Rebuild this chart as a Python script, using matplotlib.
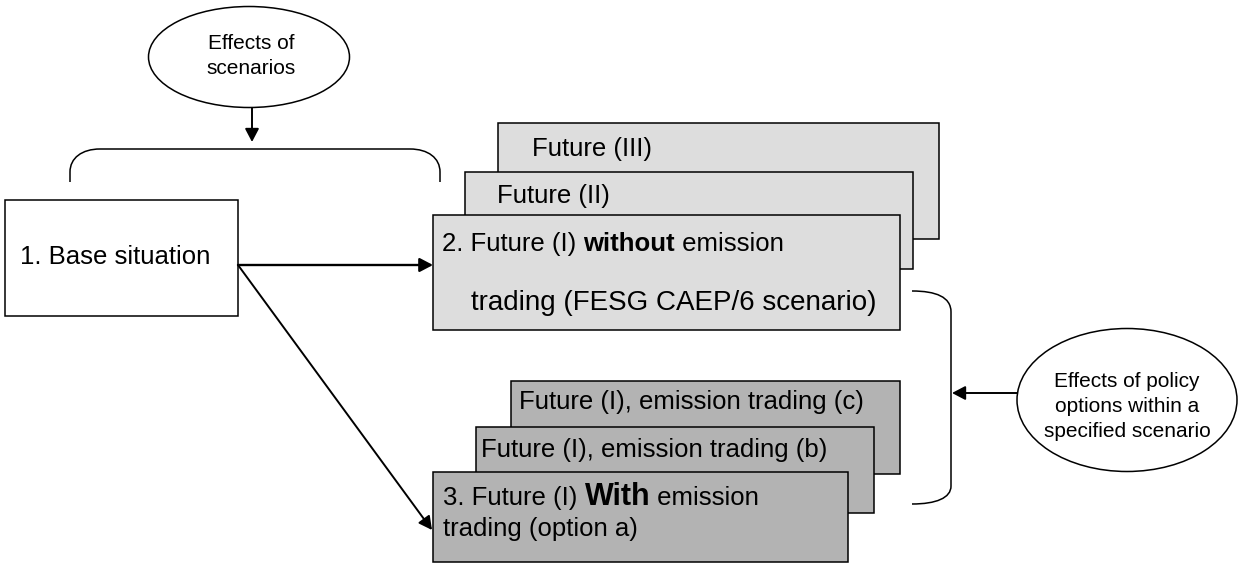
import matplotlib
matplotlib.use('Agg')
import matplotlib.pyplot as plt
from matplotlib.patches import Rectangle, Ellipse, FancyArrowPatch, PathPatch, ArrowStyle
from matplotlib.path import Path

plt.rcParams['font.family'] = ['Liberation Sans', 'DejaVu Sans']

W, H = 1238, 563
LIGHT = '#dddddd'
DARK = '#b3b3b3'
FS = 18.5    # box text
FS_OVAL = 15 # ellipse text

# ------------------------------------------------------------------
# Diagram content
# ------------------------------------------------------------------
base_label = "1. Base situation"
upper_labels = ["Future (III)", "Future (II)"]
lower_labels = ["Future (I), emission trading (c)", "Future (I), emission trading (b)"]
box2_line1 = [("2. Future (I) ", "normal", FS), ("without", "bold", FS), (" emission", "normal", FS)]
box2_line2 = "trading (FESG CAEP/6 scenario)"
box3_line1 = [("3. Future (I) ", "normal", FS), ("With", "bold", 22), (" emission", "normal", FS)]
box3_line2 = "trading (option a)"
oval_top = ["Effects of", "scenarios"]
oval_right = ["Effects of policy", "options within a", "specified scenario"]

# geometry in pixels (x0, y0, x1, y1), y measured from the top
base_box = (5, 200, 238, 316)
upper_boxes = [(498, 123, 939, 239), (465, 172, 913, 269), (433, 215, 900, 330)]
lower_boxes = [(511, 381, 900, 474), (476, 427, 874, 513), (433, 472, 848, 562)]

fig = plt.figure(figsize=(W / 100, H / 100), dpi=100)
ax = fig.add_axes([0, 0, 1, 1])
ax.set_xlim(0, W)
ax.set_ylim(H, 0)
ax.axis('off')
renderer = fig.canvas.get_renderer()


def box(b, fc):
    x0, y0, x1, y1 = b
    ax.add_patch(Rectangle((x0, y0), x1 - x0, y1 - y0, fc=fc, ec='black', lw=1.1))


def width_px(txt, size, weight):
    # measure with sentinels so that spaces at the ends are counted
    t1 = ax.text(0, 0, "|" + txt + "|", fontsize=size, fontweight=weight)
    t2 = ax.text(0, 0, "||", fontsize=size, fontweight=weight)
    w = t1.get_window_extent(renderer).width - t2.get_window_extent(renderer).width
    t1.remove(); t2.remove()
    return w


def rich(x, y, parts):
    for txt, weight, size in parts:
        ax.text(x, y, txt, fontsize=size, fontweight=weight, va='baseline', ha='left')
        x += width_px(txt, size, weight)


def arrow(p0, p1, lw=1.5):
    st = ArrowStyle('-|>', head_length=0.8, head_width=0.42)
    ax.add_patch(FancyArrowPatch(p0, p1, arrowstyle=st, mutation_scale=10,
                                 lw=lw, color='black', shrinkA=0, shrinkB=0))


# ---- ovals ----
ax.add_patch(Ellipse((249, 57), 201, 101, fc='white', ec='black', lw=1.1))
for i, s in enumerate(oval_top):
    ax.text(251, 49 + 25 * i, s, fontsize=FS_OVAL, ha='center', va='baseline')
ax.add_patch(Ellipse((1127, 400), 220, 143, fc='white', ec='black', lw=1.1))
for i, s in enumerate(oval_right):
    ax.text(1127, 387 + 25 * i, s, fontsize=FS_OVAL, ha='center', va='baseline')

# ---- brackets ----
top_br = Path([(70, 182), (70, 172), (70, 158), (82, 149), (100, 149), (410, 149),
               (428, 149), (440, 158), (440, 172), (440, 182)],
              [Path.MOVETO, Path.LINETO, Path.CURVE4, Path.CURVE4, Path.CURVE4, Path.LINETO,
               Path.CURVE4, Path.CURVE4, Path.CURVE4, Path.LINETO])
ax.add_patch(PathPatch(top_br, fc='none', ec='black', lw=1.1))
right_br = Path([(912, 291), (936, 291), (951, 297), (951, 312), (951, 486),
                 (951, 498), (936, 504), (912, 504)],
                [Path.MOVETO, Path.CURVE4, Path.CURVE4, Path.CURVE4, Path.LINETO,
                 Path.CURVE4, Path.CURVE4, Path.CURVE4])
ax.add_patch(PathPatch(right_br, fc='none', ec='black', lw=1.1))

# ---- boxes ----
box(base_box, 'white')
ax.text(20, 264, base_label, fontsize=FS, va='baseline')

for b, s, (tx, ty) in zip(upper_boxes[:2], upper_labels, [(532, 156), (497, 203)]):
    box(b, LIGHT)
    ax.text(tx, ty, s, fontsize=FS, va='baseline')
box(upper_boxes[2], LIGHT)
rich(442, 251, box2_line1)
ax.text(471, 310, box2_line2, fontsize=20, va='baseline')

for b, s, (tx, ty) in zip(lower_boxes[:2], lower_labels, [(519, 409), (481, 457)]):
    box(b, DARK)
    ax.text(tx, ty, s, fontsize=FS, va='baseline')
box(lower_boxes[2], DARK)
rich(443, 505, box3_line1)
ax.text(443, 536, box3_line2, fontsize=FS, va='baseline')

# ---- arrows ----
arrow((252, 108), (252, 142), lw=1.4)
arrow((238, 265), (433, 265), lw=1.7)
arrow((238, 265), (432, 530), lw=1.4)
arrow((1017, 393), (952, 393), lw=1.4)

fig.savefig("out.png", dpi=100, facecolor='white')
